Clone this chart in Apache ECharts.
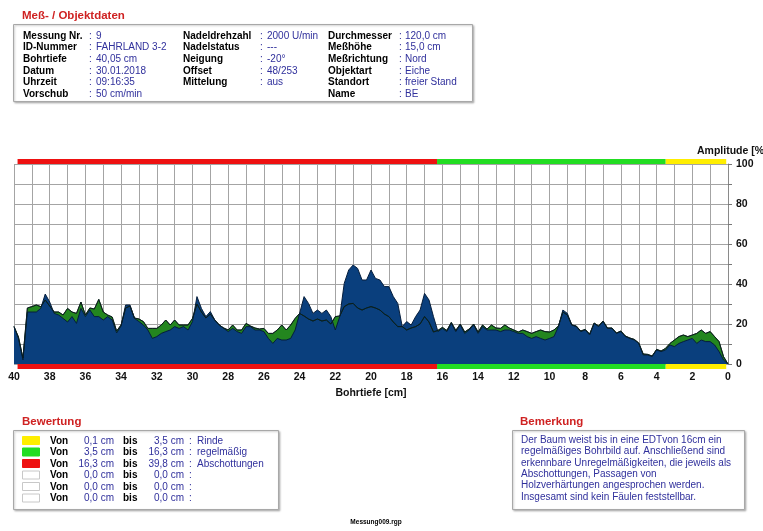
<!DOCTYPE html>
<html>
<head>
<meta charset="utf-8">
<script src="https://cdn.jsdelivr.net/npm/echarts@6/dist/echarts.min.js"></script>
<style>
  html, body { margin: 0; padding: 0; background: #fff; }
  #chart { width: 763px; height: 531px; }
</style>
</head>
<body>
<div id="chart"></div>
<script>
// Bohrtiefe [cm], every 0.25 cm (left = 40, right = 0)
const depth = [
  40, 39.75, 39.5, 39.25, 39, 38.75, 38.5, 38.25, 38, 37.75, 37.5, 37.25, 37, 36.75, 36.5, 36.25,
  36, 35.75, 35.5, 35.25, 35, 34.75, 34.5, 34.25, 34, 33.75, 33.5, 33.25, 33, 32.75, 32.5, 32.25,
  32, 31.75, 31.5, 31.25, 31, 30.75, 30.5, 30.25, 30, 29.75, 29.5, 29.25, 29, 28.75, 28.5, 28.25,
  28, 27.75, 27.5, 27.25, 27, 26.75, 26.5, 26.25, 26, 25.75, 25.5, 25.25, 25, 24.75, 24.5, 24.25,
  24, 23.75, 23.5, 23.25, 23, 22.75, 22.5, 22.25, 22, 21.75, 21.5, 21.25, 21, 20.75, 20.5, 20.25,
  20, 19.75, 19.5, 19.25, 19, 18.75, 18.5, 18.25, 18, 17.75, 17.5, 17.25, 17, 16.75, 16.5, 16.25,
  16, 15.75, 15.5, 15.25, 15, 14.75, 14.5, 14.25, 14, 13.75, 13.5, 13.25, 13, 12.75, 12.5, 12.25,
  12, 11.75, 11.5, 11.25, 11, 10.75, 10.5, 10.25, 10, 9.75, 9.5, 9.25, 9, 8.75, 8.5, 8.25,
  8, 7.75, 7.5, 7.25, 7, 6.75, 6.5, 6.25, 6, 5.75, 5.5, 5.25, 5, 4.75, 4.5, 4.25,
  4, 3.75, 3.5, 3.25, 3, 2.75, 2.5, 2.25, 2, 1.75, 1.5, 1.25, 1, 0.75, 0.5, 0.25, 0
];

// Amplitude [%] - blue curve
const ampBlue = [
  18.7, 12.8, 2, 26, 26, 26, 27.8, 35, 31, 25.3, 24.5, 22.8, 21, 23.7, 20.3, 27.8,
  23.7, 27, 23.7, 23.7, 22, 23.7, 22, 15.5, 19, 29.5, 29.5, 22.8, 21.2, 19.5, 17, 12.8,
  13.7, 15.3, 16.2, 17, 18.7, 17.8, 18.7, 17, 21.2, 33.7, 27.8, 23.7, 26.2, 22, 19.5, 17.8,
  16.2, 17.8, 16.2, 15.3, 18.7, 18.7, 17, 17, 16.2, 12.8, 10.3, 12.8, 12, 12, 12.8, 17,
  25.3, 33.7, 30.3, 25.3, 27, 25.3, 27, 23.7, 17, 23.7, 40.3, 47, 49.5, 47.8, 42, 42,
  47, 42.8, 42, 38.7, 38.7, 33.7, 30.3, 18.7, 21.2, 19.5, 23.7, 27, 35.3, 32, 23.7, 16.2,
  17.8, 16.2, 20.3, 16.2, 19.5, 15.3, 17, 19.5, 15.3, 18.7, 17, 17, 17, 16.2, 17, 17,
  16.2, 15.3, 15.3, 13.7, 12.8, 13.7, 12.8, 12, 12.8, 13.7, 18.7, 27, 25.3, 19.5, 18.7, 16.2,
  17, 14.5, 20.3, 18.7, 21.2, 17.8, 17.8, 15.3, 16.2, 13.7, 12.8, 12, 10.3, 4.5, 4.5, 3.7,
  7, 6.2, 7, 9.5, 8.7, 10.3, 11.2, 12, 12.8, 10.3, 12, 11.2, 11.2, 9.5, 6.2, 2, 0
];

// Amplitude [%] - green curve
const ampGreen = [
  18.7, 13.5, 3, 28, 28.7, 29.5, 28.7, 32, 29, 26, 26, 24.5, 27.8, 26, 25.3, 31,
  24.5, 28, 27.5, 32.3, 26, 24.5, 23.5, 16.5, 19.5, 28, 29, 23, 22.5, 21.2, 17.8, 17.8,
  17.8, 19.5, 22, 19.5, 22, 19.5, 19.5, 19.5, 22.8, 30, 26, 23, 25, 22, 19.5, 18,
  17, 19.5, 17, 17, 20.3, 19, 18, 17.5, 17.8, 15.3, 15.3, 17, 19.5, 17, 19.5, 22.8,
  25.3, 24, 22.5, 21.5, 22.5, 21.5, 22, 20, 23.7, 24, 28.7, 30, 30.3, 28, 27, 28,
  28.7, 28, 27, 25, 23.7, 21, 18.7, 18.7, 17, 18, 18.7, 20, 23.7, 21, 16, 16.8,
  18.3, 16.8, 20.8, 16.8, 20, 16, 17.5, 20, 16, 19.5, 17.5, 19.5, 18, 17.8, 19.5, 18,
  17, 16, 17, 16.2, 15.3, 16.2, 17, 16.2, 16, 17, 19, 26, 24.5, 19.5, 19, 16.5,
  17.3, 15, 20.5, 19, 21.5, 18, 18, 15.5, 16.5, 14, 13, 12.3, 10.5, 5, 4.8, 4,
  7.3, 6.5, 7.8, 10.3, 12, 13.7, 14.5, 13.7, 14.5, 15.3, 17, 15.3, 16.2, 13.7, 11.2, 3.7, 0
];

// Bewertung (zones)
const zoneFrom = [0.1, 3.5, 16.3, 0, 0, 0];
const zoneTo = [3.5, 16.3, 39.8, 0, 0, 0];
const zoneNames = ['Rinde', 'regelmäßig', 'Abschottungen', '', '', ''];
const zoneColors = ['#ffee00', '#22dd22', '#ee1111', '#ffffff', '#ffffff', '#ffffff'];

// Meß- / Objektdaten
const headCol1 = [['Messung Nr.', '9'], ['ID-Nummer', 'FAHRLAND 3-2'], ['Bohrtiefe', '40,05 cm'],
  ['Datum', '30.01.2018'], ['Uhrzeit', '09:16:35'], ['Vorschub', '50 cm/min']];
const headCol2 = [['Nadeldrehzahl', '2000 U/min'], ['Nadelstatus', '---'], ['Neigung', '-20°'],
  ['Offset', '48/253'], ['Mittelung', 'aus']];
const headCol3 = [['Durchmesser', '120,0 cm'], ['Meßhöhe', '15,0 cm'], ['Meßrichtung', 'Nord'],
  ['Objektart', 'Eiche'], ['Standort', 'freier Stand'], ['Name', 'BE']];

const remarkLines = [
  'Der Baum weist bis in eine EDTvon 16cm ein',
  'regelmäßiges Bohrbild auf. Anschließend sind',
  'erkennbare Unregelmäßigkeiten, die jeweils als',
  'Abschottungen, Passagen von',
  'Holzverhärtungen angesprochen werden.',
  'Insgesamt sind kein Fäulen feststellbar.'
];

const FONT = '"Liberation Sans", Arial, sans-serif';
const RED = '#cf2222';
const VAL = '#30309c';

const blueData = depth.map((d, i) => [d, ampBlue[i]]);
const greenData = depth.map((d, i) => [d, ampGreen[i]]);
const zoneData = zoneFrom.map((f, i) => [f, zoneTo[i], i]).filter(z => z[1] > z[0]);

function txt(x, y, text, opt) {
  opt = opt || {};
  return {
    type: 'text', x: x, y: y, silent: true,
    style: {
      text: text,
      fill: opt.fill || '#000',
      font: (opt.bold ? 'bold ' : '') + (opt.size || 10) + 'px ' + FONT,
      align: opt.align || 'left',
      verticalAlign: 'middle'
    }
  };
}
function box(x, y, w, h) {
  return {
    type: 'rect', silent: true, z: -1,
    shape: { x: x, y: y, width: w, height: h },
    style: {
      fill: '#fff', stroke: '#a8a8a8', lineWidth: 1,
      shadowBlur: 2, shadowOffsetX: 1, shadowOffsetY: 1, shadowColor: 'rgba(0,0,0,0.25)'
    }
  };
}
const fmt = v => v.toFixed(1).replace('.', ',');

let graphics = [];
// header
graphics.push(txt(22, 16, 'Meß- / Objektdaten', { bold: true, size: 11.5, fill: RED }));
graphics.push(box(13.5, 24.5, 459, 77));
[[headCol1, 23, 89, 96], [headCol2, 183, 260, 267], [headCol3, 328, 399, 405]].forEach(c => {
  c[0].forEach((row, i) => {
    const y = 36 + i * 11.6;
    graphics.push(txt(c[1], y, row[0], { bold: true }));
    graphics.push(txt(c[2], y, ':', { fill: VAL }));
    graphics.push(txt(c[3], y, row[1], { fill: VAL }));
  });
});
// Bewertung
graphics.push(txt(22, 422, 'Bewertung', { bold: true, size: 11.5, fill: RED }));
graphics.push(box(13.5, 430.5, 265, 79));
zoneFrom.forEach((f, i) => {
  const y = 441 + i * 11.5;
  graphics.push({
    type: 'rect', silent: true,
    shape: { x: 22.5, y: y - 4.5, width: 17, height: 8 },
    style: { fill: zoneColors[i], stroke: zoneNames[i] ? zoneColors[i] : '#c8c8c8', lineWidth: 1 }
  });
  graphics.push(txt(50, y, 'Von', { bold: true }));
  graphics.push(txt(114, y, fmt(f) + ' cm', { fill: VAL, align: 'right' }));
  graphics.push(txt(123, y, 'bis', { bold: true }));
  graphics.push(txt(184, y, fmt(zoneTo[i]) + ' cm', { fill: VAL, align: 'right' }));
  graphics.push(txt(189, y, ':', { fill: VAL }));
  graphics.push(txt(197, y, zoneNames[i], { fill: VAL }));
});
// Bemerkung
graphics.push(txt(520, 422, 'Bemerkung', { bold: true, size: 11.5, fill: RED }));
graphics.push(box(512.5, 430.5, 232, 79));
remarkLines.forEach((l, i) => graphics.push(txt(521, 440 + i * 11.4, l, { fill: VAL })));
// axis caption and footer
graphics.push(txt(697, 151, 'Amplitude [%]', { bold: true, size: 10.5, fill: '#111' }));
graphics.push(txt(376, 522, 'Messung009.rgp', { bold: true, size: 6.5, align: 'center' }));

const chart = echarts.init(document.getElementById('chart'));
chart.setOption({
  animation: false,
  backgroundColor: '#fff',
  grid: { left: 14, right: 35, top: 164, bottom: 167 },
  xAxis: {
    type: 'value', inverse: true, min: 0, max: 40, interval: 1,
    name: 'Bohrtiefe [cm]', nameLocation: 'middle', nameGap: 24,
    nameTextStyle: { fontFamily: FONT, fontWeight: 'bold', fontSize: 10.5, color: '#111' },
    axisLine: { show: false },
    axisTick: { show: false },
    axisLabel: {
      margin: 8, fontFamily: FONT, fontWeight: 'bold', fontSize: 10.5, color: '#111',
      formatter: v => (v % 2 === 0 ? String(v) : '')
    },
    splitLine: { show: true, lineStyle: { color: '#a4a4a4', width: 1 } }
  },
  yAxis: {
    type: 'value', position: 'right', min: 0, max: 100, interval: 10,
    axisLine: { show: true, lineStyle: { color: '#8a8a8a' } },
    axisTick: { show: true, inside: false, length: 4, lineStyle: { color: '#777' } },
    axisLabel: {
      margin: 8, fontFamily: FONT, fontWeight: 'bold', fontSize: 10.5, color: '#111',
      formatter: v => (v % 20 === 0 ? String(v) : '')
    },
    splitLine: { show: true, lineStyle: { color: '#a4a4a4', width: 1 } }
  },
  graphic: graphics,
  series: [
    {
      name: 'green', type: 'line', data: greenData, showSymbol: false, silent: true,
      lineStyle: { color: '#0d2a12', width: 1 },
      areaStyle: { color: '#23861f', opacity: 1 }
    },
    {
      name: 'blue', type: 'line', data: blueData, showSymbol: false, silent: true,
      lineStyle: { color: '#061e3c', width: 1 },
      areaStyle: { color: '#0a3f7d', opacity: 1 }
    },
    {
      name: 'greenLine', type: 'line', data: greenData, showSymbol: false, silent: true,
      lineStyle: { color: '#0a1c22', width: 0.8 }
    },
    {
      name: 'zones', type: 'custom', silent: true, clip: false, z: 5,
      data: zoneData,
      encode: { x: [0, 1] },
      renderItem: (params, api) => {
        const idx = api.value(2);
        const a = api.coord([api.value(0), 100]);
        const b = api.coord([api.value(1), 100]);
        const c = api.coord([api.value(0), 0]);
        const x = Math.min(a[0], b[0]);
        const w = Math.abs(b[0] - a[0]);
        return {
          type: 'group',
          children: [
            { type: 'rect', shape: { x: x, y: a[1] - 5, width: w, height: 5 }, style: { fill: zoneColors[idx] } },
            { type: 'rect', shape: { x: x, y: c[1], width: w, height: 5 }, style: { fill: zoneColors[idx] } }
          ]
        };
      }
    }
  ]
});
</script>
</body>
</html>
